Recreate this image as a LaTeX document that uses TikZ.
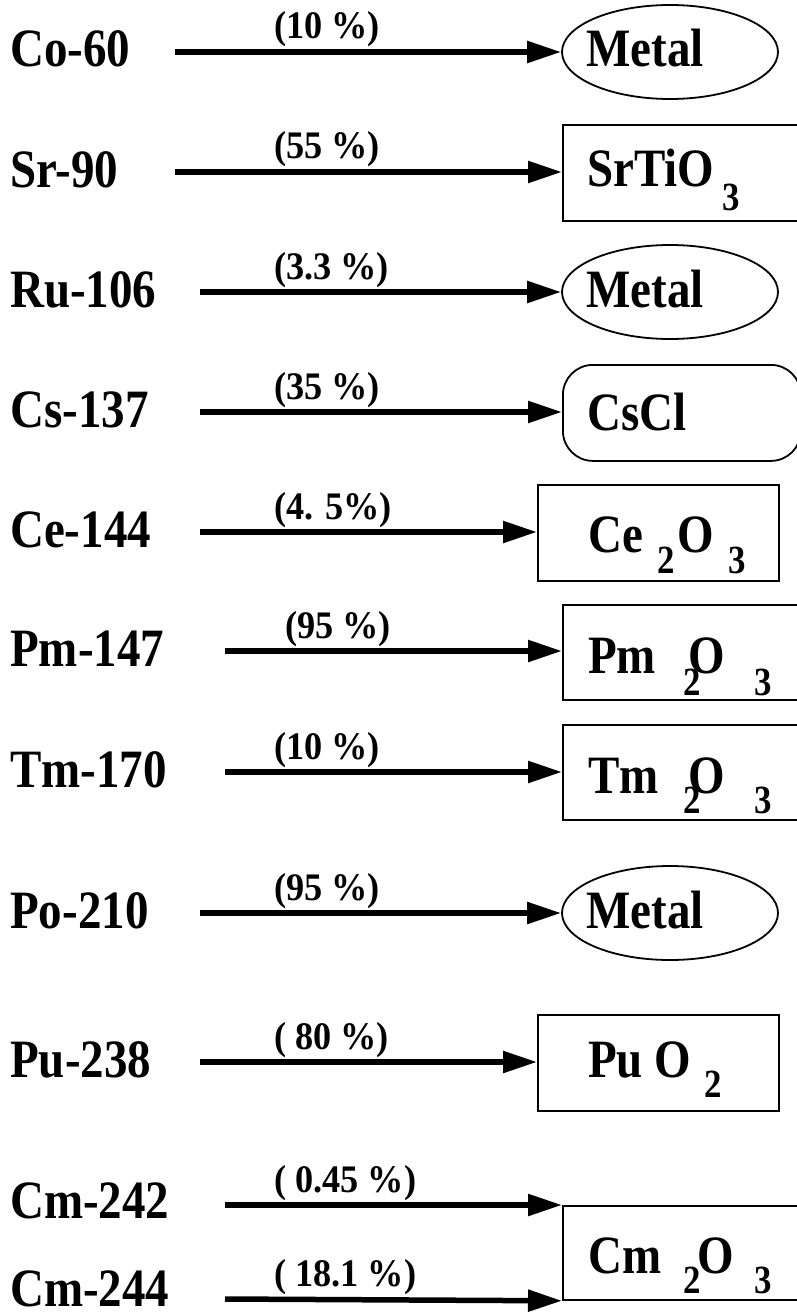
\documentclass[tikz,border=0pt]{standalone}
\usepackage{fontspec}
\setmainfont{Liberation Serif}[FakeStretch=0.87]
\newfontfamily\yieldfont{Liberation Serif}[FakeStretch=0.93]
\usetikzlibrary{arrows.meta,shapes.geometric}

\begin{document}
\begin{tikzpicture}[x=1pt,y=-1pt,
  iso/.style={anchor=base west,inner sep=0pt,font=\fontsize{54}{54}\selectfont\bfseries},
  pct/.style={anchor=base west,inner sep=0pt,font=\yieldfont\fontsize{39}{39}\selectfont\bfseries},
  chem/.style={anchor=base west,inner sep=0pt,font=\fontsize{54}{54}\selectfont\bfseries},
  sub/.style={anchor=base west,inner sep=0pt,font=\fontsize{40}{40}\selectfont\bfseries},
  flow/.style={line width=5.5pt,-{Triangle[length=34pt,width=21pt]}},
  metal/.style={ellipse,draw,line width=1.8pt,minimum width=216pt,minimum height=94pt,inner sep=0pt},
  oxide/.style={rectangle,draw,line width=1.8pt,inner sep=0pt,anchor=north west},
]
\path[use as bounding box,clip] (0,0) rectangle (797,1316);

% --- isotope names ---
\node[iso] (co) at (10,67)   {Co-60};
\node[iso] (sr) at (10,187)  {Sr-90};
\node[iso] (ru) at (10,307)  {Ru-106};
\node[iso] (cs) at (10,427)  {Cs-137};
\node[iso] (ce) at (10,547)  {Ce-144};
\node[iso] (pm) at (10,666)  {Pm-147};
\node[iso] (tm) at (10,787)  {Tm-170};
\node[iso] (po) at (10,928)  {Po-210};
\node[iso] (pu) at (10,1077) {Pu-238};
\node[iso] (cma) at (10,1218) {Cm-242};
\node[iso] (cmb) at (10,1306) {Cm-244};

% --- chemical forms ---
\node[metal] (m1) at (670,52) {};
\node[oxide,minimum width=250pt,minimum height=96pt] (b2) at (562,124) {};
\node[metal] (m3) at (670,292) {};
\node[oxide,rounded corners=30pt,minimum width=238pt,minimum height=96pt] (b4) at (562,364) {};
\node[oxide,minimum width=241pt,minimum height=96pt] (b5) at (537,484) {};
\node[oxide,minimum width=250pt,minimum height=95pt] (b6) at (562,604) {};
\node[oxide,minimum width=250pt,minimum height=95pt] (b7) at (562,724) {};
\node[metal] (m8) at (670,913) {};
\node[oxide,minimum width=241pt,minimum height=96pt] (b9) at (537,1014) {};
\node[oxide,minimum width=250pt,minimum height=94pt] (b10) at (562,1205) {};

% --- formulas ---
\node[chem] (t1) at (586,67) {Metal};
\node[chem] (t2) at (587,186) {SrTiO};
\node[sub]  (t2s) at (722,210) {3};
\node[chem] (t3) at (586,307) {Metal};
\node[chem] (t4) at (587,430) {CsCl};
\node[chem] (t5a) at (588,552) {Ce};
\node[sub]  (t5b) at (657,573) {2};
\node[chem] (t5c) at (677,552) {O};
\node[sub]  (t5d) at (728,573) {3};
\node[chem] (t6a) at (588,673) {Pm};
\node[sub]  (t6b) at (683,695) {2};
\node[chem] (t6c) at (688,673) {O};
\node[sub]  (t6d) at (754,695) {3};
\node[chem] (t7a) at (588,793) {Tm};
\node[sub]  (t7b) at (683,813) {2};
\node[chem] (t7c) at (688,793) {O};
\node[sub]  (t7d) at (754,813) {3};
\node[chem] (t8) at (586,928) {Metal};
\node[chem] (t9a) at (588,1077) {Pu O};
\node[sub]  (t9b) at (704,1097) {2};
\node[chem] (t10a) at (588,1273) {Cm};
\node[sub]  (t10b) at (683,1293) {2};
\node[chem] (t10c) at (697,1273) {O};
\node[sub]  (t10d) at (754,1293) {3};

% --- arrow tails ---
\coordinate (s1) at (175,52);
\coordinate (s2) at (175,172);
\coordinate (s3) at (200,292);
\coordinate (s4) at (200,412);
\coordinate (s5) at (200,532);
\coordinate (s6) at (225,651);
\coordinate (s7) at (225,772);
\coordinate (s8) at (200,913);
\coordinate (s9) at (200,1062);
\coordinate (s10) at (225,1205);
\coordinate (s11) at (225,1299);

\draw[flow] (s1) -- (m1.west);
\draw[flow] (s2) -- (s2 -| b2.west);
\draw[flow] (s3) -- (m3.west);
\draw[flow] (s4) -- (s4 -| b4.west);
\draw[flow] (s5) -- (s5 -| b5.west);
\draw[flow] (s6) -- (s6 -| b6.west);
\draw[flow] (s7) -- (s7 -| b7.west);
\draw[flow] (s8) -- (m8.west);
\draw[flow] (s9) -- (s9 -| b9.west);
\draw[flow] (s10) -- (b10.north west);
\draw[flow] (s11) -- (b10.south west);

% --- yields ---
\node[pct] (p1) at (274,39)   {(10 \%)};
\node[pct] (p2) at (274,159)  {(55 \%)};
\node[pct] (p3) at (274,279)  {(3.3 \%)};
\node[pct] (p4) at (274,399)  {(35 \%)};
\node[pct] (p5) at (274,519)  {(4. 5\%)};
\node[pct] (p6) at (285,638)  {(95 \%)};
\node[pct] (p7) at (274,759)  {(10 \%)};
\node[pct] (p8) at (274,900)  {(95 \%)};
\node[pct] (p9) at (274,1049) {( 80 \%)};
\node[pct] (p10) at (274,1192) {( 0.45 \%)};
\node[pct] (p11) at (274,1286) {( 18.1 \%)};
\end{tikzpicture}
\end{document}
